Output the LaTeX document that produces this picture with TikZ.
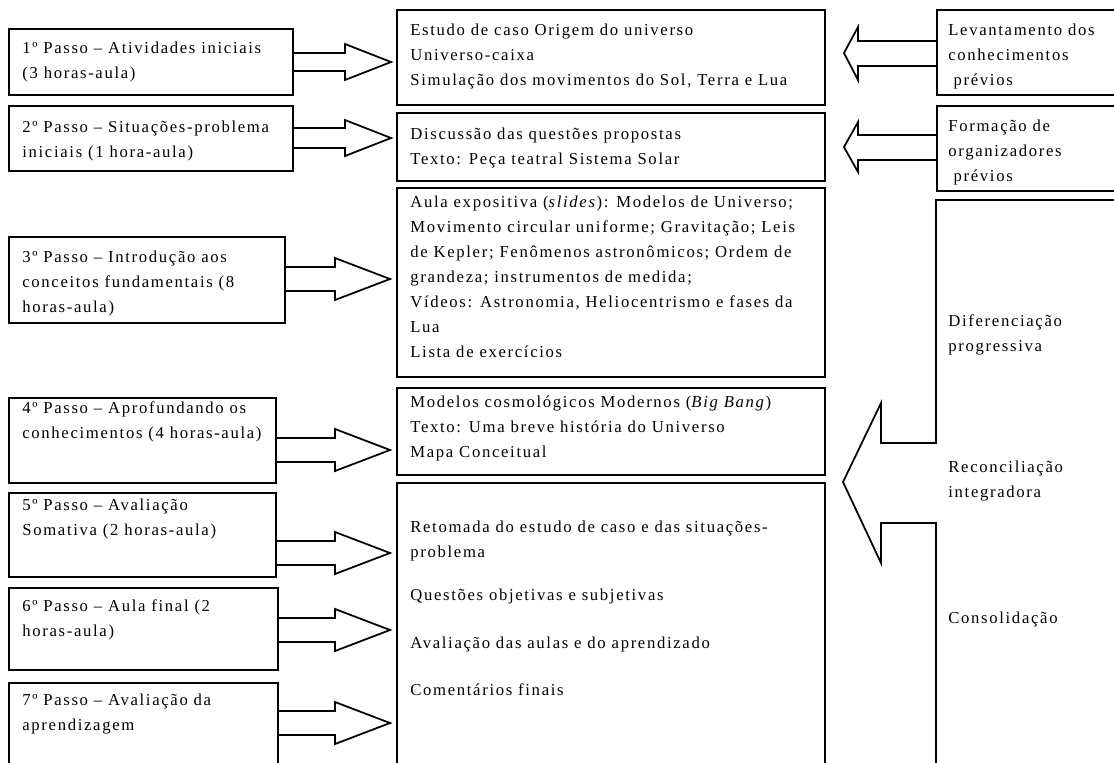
\documentclass[tikz,border=0pt]{standalone}
\usepackage{fontspec}
\setmainfont{Liberation Serif}[LetterSpace=10]
\usetikzlibrary{calc,fit}
\newcommand{\passofont}{\fontsize{9.5}{14.17}\selectfont}
\tikzset{
  box/.style={draw, line width=1.1pt, inner sep=0pt, rectangle},
  txt/.style={anchor=north west, inner sep=0pt, align=left, font=\passofont, execute at begin node=\strut},
  blk/.style={draw, line width=1pt, line join=miter},
}
\begin{document}
\begin{tikzpicture}[x=0.02cm, y=-0.02cm]
\useasboundingbox (0,0) rectangle (1114,762);
\clip (0,0) rectangle (1114,762);

% passos
\node[box, fit={(9,29) (293,95)}] (p1) {};
\node[box, fit={(9,106) (293,171)}] (p2) {};
\node[box, fit={(9,237) (285,323)}] (p3) {};
\node[box, fit={(9,398) (276,483)}] (p4) {};
\node[box, fit={(9,493) (276,577)}] (p5) {};
\node[box, fit={(9,588) (278,670)}] (p6) {};
\node[box, fit={(9,683) (278,790)}] (p7) {};

\node[txt] (p1t) at (22,42) {1º Passo – Atividades iniciais\\(3 horas-aula)};
\node[txt] (p2t) at (22,121) {2º Passo – Situações-problema\\iniciais (1 hora-aula)};
\node[txt] (p3t) at (22,251) {3º Passo – Introdução aos\\conceitos fundamentais (8\\horas-aula)};
\node[txt] (p4t) at (22,401) {4º Passo – Aprofundando os\\conhecimentos (4 horas-aula)};
\node[txt] (p5t) at (22,499) {5º Passo – Avaliação\\Somativa (2 horas-aula)};
\node[txt] (p6t) at (22,599) {6º Passo – Aula final (2\\horas-aula)};
\node[txt] (p7t) at (22,694) {7º Passo – Avaliação da\\aprendizagem};

% atividades
\node[box, fit={(397,10) (825,105)}] (m1) {};
\node[box, fit={(397,113) (825,181)}] (m2) {};
\node[box, fit={(397,188) (825,377)}] (m3) {};
\node[box, fit={(397,388) (825,475)}] (m4) {};
\node[box, fit={(397,483) (825,790)}] (m5) {};

\node[txt] (m1t) at (410,24) {Estudo de caso Origem do universo\\Universo-caixa\\Simulação dos movimentos do Sol, Terra e Lua};
\node[txt] (m2t) at (410,128) {Discussão das questões propostas\\Texto: Peça teatral Sistema Solar};
\node[txt] (m3t) at (410,196) {Aula expositiva (\textit{slides}): Modelos de Universo;\\Movimento circular uniforme; Gravitação; Leis\\de Kepler; Fenômenos astronômicos; Ordem de\\grandeza; instrumentos de medida;\\Vídeos: Astronomia, Heliocentrismo e fases da\\Lua\\Lista de exercícios};
\node[txt] (m4t) at (410,396) {Modelos cosmológicos Modernos (\textit{Big Bang})\\Texto: Uma breve história do Universo\\Mapa Conceitual};
\node[txt] (m5t) at (410,521) {Retomada do estudo de caso e das situações-\\problema\\[10pt]Questões objetivas e subjetivas\\[13pt]Avaliação das aulas e do aprendizado\\[13pt]Comentários finais};

% organizadores
\node[box, fit={(937,10) (1130,95)}] (r1) {};
\node[box, fit={(937,106) (1130,191)}] (r2) {};
\node[txt] (r1t) at (948,24) {Levantamento dos\\conhecimentos\\\hspace{3pt}prévios};
\node[txt] (r2t) at (948,120) {Formação de\\organizadores\\\hspace{3pt}prévios};
\node[txt] (dift) at (948,314) {Diferenciação\\progressiva};
\node[txt] (rect) at (948,461) {Reconciliação\\integradora};
\node[txt] (cont) at (948,606) {Consolidação};

% setas dos passos
\draw[blk] (p1.east |- 0,53) -- (345,53) -- (345,44) -- ($(m1.west |- 0,62)+(-5,0)$) -- (345,80) -- (345,71) -- (p1.east |- 0,71);
\draw[blk] (p2.east |- 0,128) -- (345,128) -- (345,120) -- ($(m2.west |- 0,138)+(-5,0)$) -- (345,156) -- (345,148) -- (p2.east |- 0,148);
\draw[blk] (p3.east |- 0,267) -- (335,267) -- (335,258) -- ($(m3.west |- 0,279)+(-6,0)$) -- (335,300) -- (335,291) -- (p3.east |- 0,291);
\draw[blk] (p4.east |- 0,438) -- (335,438) -- (335,429) -- ($(m4.west |- 0,450)+(-6,0)$) -- (335,471) -- (335,462) -- (p4.east |- 0,462);
\draw[blk] (p5.east |- 0,541) -- (335,541) -- (335,532) -- ($(m5.west |- 0,553)+(-6,0)$) -- (335,574) -- (335,565) -- (p5.east |- 0,565);
\draw[blk] (p6.east |- 0,618) -- (335,618) -- (335,609) -- ($(m5.west |- 0,630)+(-6,0)$) -- (335,651) -- (335,642) -- (p6.east |- 0,642);
\draw[blk] (p7.east |- 0,711) -- (335,711) -- (335,702) -- ($(m5.west |- 0,723)+(-6,0)$) -- (335,744) -- (335,735) -- (p7.east |- 0,735);

% setas dos organizadores
\draw[blk] (r1.west |- 0,41) -- (858,41) -- (858,27) -- ($(m1.east |- 0,53)+(18,0)$) -- (858,80) -- (858,66) -- (r1.west |- 0,66);
\draw[blk] (r2.west |- 0,135) -- (858,135) -- (858,122) -- ($(m2.east |- 0,147)+(18,0)$) -- (858,172) -- (858,160) -- (r2.west |- 0,160);
\draw[blk] (1130,200) -- (936,200) -- (936,443) -- (881,443) -- (881,403) -- (843,482) -- (881,563) -- (881,523) -- (936,523) -- (936,790);
\end{tikzpicture}
\end{document}
